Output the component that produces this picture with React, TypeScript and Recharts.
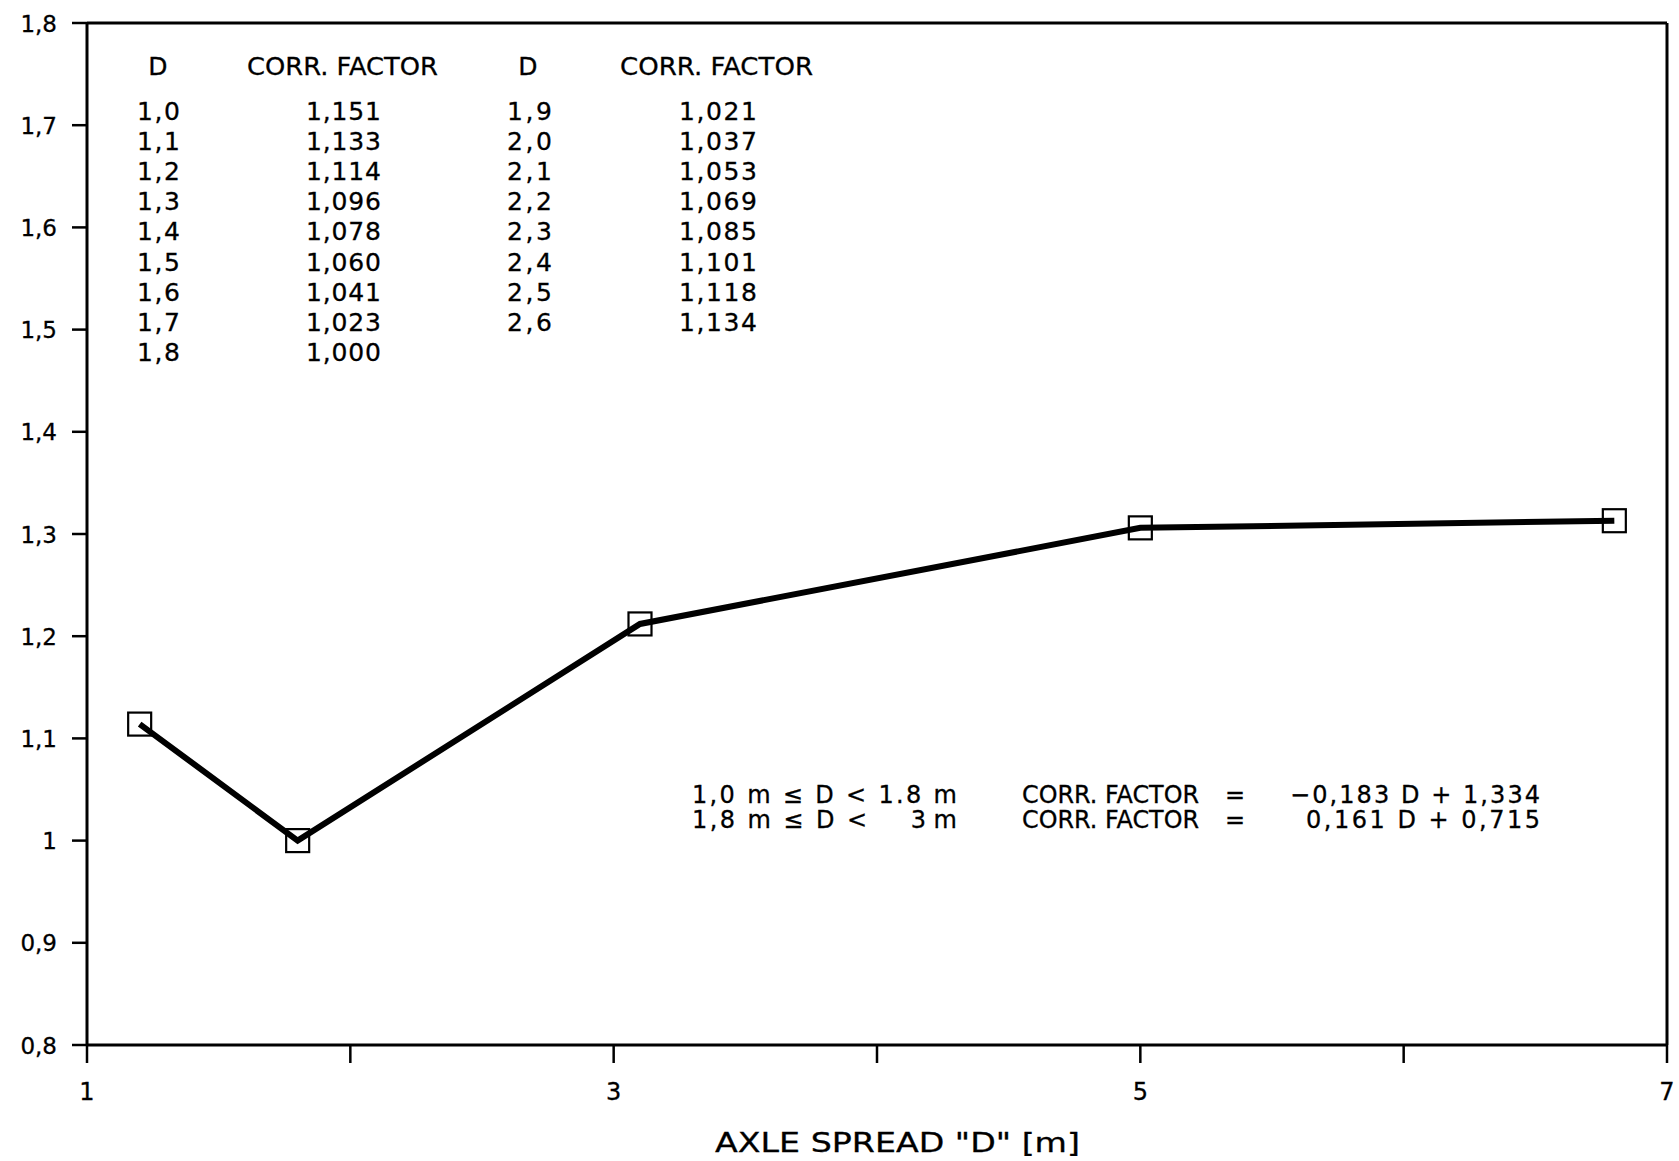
import React from 'react';
import { LineChart, Line, XAxis, YAxis, ReferenceLine } from 'recharts';

const axleSpread = [1.2, 1.8, 3.1, 5.0, 6.8];
const corrFactor = [1.114, 1.0, 1.212, 1.306, 1.313];

const xTicks = [1, 2, 3, 4, 5, 6, 7];
const xTickLabels = ['1', '', '3', '', '5', '', '7'];
const yTicks = [0.8, 0.9, 1, 1.1, 1.2, 1.3, 1.4, 1.5, 1.6, 1.7, 1.8];
const yTickLabels = ['0,8', '0,9', '1', '1,1', '1,2', '1,3', '1,4', '1,5', '1,6', '1,7', '1,8'];

const tableD1 = ['1,0', '1,1', '1,2', '1,3', '1,4', '1,5', '1,6', '1,7', '1,8'];
const tableF1 = ['1,151', '1,133', '1,114', '1,096', '1,078', '1,060', '1,041', '1,023', '1,000'];
const tableD2 = ['1,9', '2,0', '2,1', '2,2', '2,3', '2,4', '2,5', '2,6'];
const tableF2 = ['1,021', '1,037', '1,053', '1,069', '1,085', '1,101', '1,118', '1,134'];

const rangeLeft = ['1,0 m ≤ D < 1.8 m', '1,8 m ≤ D <'];
const rangeRight = ['', '3 m'];
const formulaLabel = ['CORR. FACTOR', '='];
const formulaValues = ['−0,183 D + 1,334', '0,161 D + 0,715'];
const xTitle = 'AXLE SPREAD "D" [m]';

const data = axleSpread.map((d, i) => ({ d, f: corrFactor[i] }));

const FONT = '"DejaVu Sans", Verdana, sans-serif';

const SquareDot = (props: any) => {
  const { cx, cy, index } = props;
  if (cx == null || cy == null) return null;
  return (
    <rect key={`sq-${index}`} x={cx - 11.5} y={cy - 11.5} width={23} height={23} fill="none" stroke="#000" strokeWidth={2.2} />
  );
};

const XTick = (props: any) => {
  const { x, payload } = props;
  const idx = xTicks.indexOf(payload.value);
  const label = idx >= 0 ? xTickLabels[idx] : '';
  return (
    <text x={x} y={1100} textAnchor="middle" fontSize={24} fontFamily={FONT} fill="#000" stroke="#000" strokeWidth={0.3}>{label}</text>
  );
};

const YTick = (props: any) => {
  const { y, payload } = props;
  const idx = yTicks.findIndex((t) => Math.abs(t - payload.value) < 1e-6);
  const label = idx >= 0 ? yTickLabels[idx] : '';
  return (
    <text x={57} y={y + 8.5} textAnchor="end" fontSize={23} fontFamily={FONT} fill="#000" stroke="#000" strokeWidth={0.3}>{label}</text>
  );
};

export default function App() {
  const rowY = (i: number) => 120 + i * 30.1;
  return (
    <div style={{ position: 'absolute', left: 0, top: 0, width: 1679, height: 1161, background: '#fff' }}>
      <LineChart width={1679} height={1161} data={data} margin={{ top: 23, right: 12, left: 0, bottom: 0 }}>
        <XAxis
          type="number"
          dataKey="d"
          domain={[1, 7]}
          ticks={xTicks}
          interval={0}
          height={116}
          tickSize={18}
          axisLine={{ stroke: '#000', strokeWidth: 3 }}
          tickLine={{ stroke: '#000', strokeWidth: 2.5 }}
          tick={<XTick />}
        />
        <YAxis
          type="number"
          domain={[0.8, 1.8]}
          ticks={yTicks}
          interval={0}
          allowDataOverflow
          width={87}
          tickSize={15}
          axisLine={{ stroke: '#000', strokeWidth: 3 }}
          tickLine={{ stroke: '#000', strokeWidth: 2.5 }}
          tick={<YTick />}
        />
        <ReferenceLine y={1.8} stroke="#000" strokeWidth={3} />
        <ReferenceLine x={7} stroke="#000" strokeWidth={3} />
        <Line
          type="linear"
          dataKey="f"
          stroke="#000"
          strokeWidth={6}
          dot={(p: any) => <SquareDot {...p} />}
          activeDot={false}
          isAnimationActive={false}
        />
      </LineChart>
      <svg
        width={1679}
        height={1161}
        style={{ position: 'absolute', left: 0, top: 0, pointerEvents: 'none' }}
        fontFamily={FONT}
        fill="#000"
        stroke="#000"
        strokeWidth={0.3}
      >
        <g fontSize={25}>
          <text x={158} y={75} textAnchor="middle">D</text>
          <text x={247} y={75} textLength={191} lengthAdjust="spacingAndGlyphs">CORR. FACTOR</text>
          <text x={528} y={75} textAnchor="middle">D</text>
          <text x={620} y={75} textLength={193} lengthAdjust="spacingAndGlyphs">CORR. FACTOR</text>
          {tableD1.map((t, i) => (
            <text key={`d1-${i}`} x={137} y={rowY(i)} textLength={43} lengthAdjust="spacing">{t}</text>
          ))}
          {tableF1.map((t, i) => (
            <text key={`f1-${i}`} x={306} y={rowY(i)} textLength={75} lengthAdjust="spacing">{t}</text>
          ))}
          {tableD2.map((t, i) => (
            <text key={`d2-${i}`} x={507} y={rowY(i)} textLength={45} lengthAdjust="spacing">{t}</text>
          ))}
          {tableF2.map((t, i) => (
            <text key={`f2-${i}`} x={679} y={rowY(i)} textLength={78} lengthAdjust="spacing">{t}</text>
          ))}
        </g>
        <g fontSize={24}>
          <text x={692} y={803} textLength={265} lengthAdjust="spacing">{rangeLeft[0]}</text>
          <text x={692} y={828} textLength={175} lengthAdjust="spacing">{rangeLeft[1]}</text>
          <text x={957} y={828} textAnchor="end">{rangeRight[1]}</text>
          <text x={1022} y={803} textLength={177} lengthAdjust="spacingAndGlyphs">{formulaLabel[0]}</text>
          <text x={1022} y={828} textLength={177} lengthAdjust="spacingAndGlyphs">{formulaLabel[0]}</text>
          <text x={1225} y={803}>{formulaLabel[1]}</text>
          <text x={1225} y={828}>{formulaLabel[1]}</text>
          <text x={1290} y={803} textLength={250} lengthAdjust="spacing">{formulaValues[0]}</text>
          <text x={1306} y={828} textLength={234} lengthAdjust="spacing">{formulaValues[1]}</text>
        </g>
        <text x={715} y={1152} fontSize={27} textLength={365} lengthAdjust="spacingAndGlyphs">{xTitle}</text>
      </svg>
    </div>
  );
}
